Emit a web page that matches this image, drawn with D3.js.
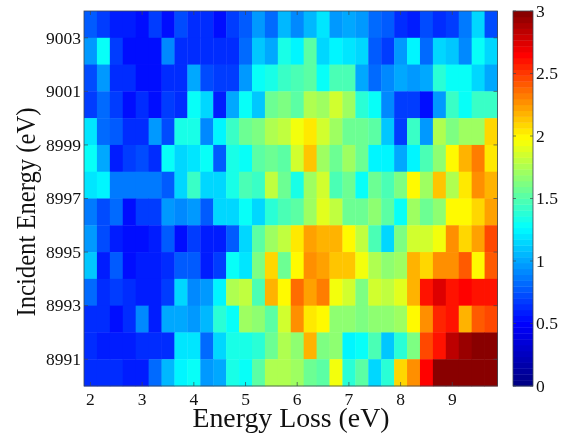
<!DOCTYPE html>
<html>
<head>
<meta charset="utf-8">
<script src="https://cdnjs.cloudflare.com/ajax/libs/d3/7.8.5/d3.min.js"></script>
<style>
  html, body { margin: 0; padding: 0; background: #fff; }
  svg { display: block; filter: blur(0.4px); }
  text { font-family: "Liberation Serif", serif; fill: #111; }
  .tick-label { font-size: 17.5px; }
  .x-title { font-size: 27.8px; }
  .y-title { font-size: 27px; }
</style>
</head>
<body>
<div class="graph"></div>
<script>
// energy loss of each column (eV)
var lossEnergies = [2, 2.25, 2.5, 2.75, 3, 3.25, 3.5, 3.75, 4, 4.25, 4.5, 4.75, 5, 5.25, 5.5, 5.75,
  6, 6.25, 6.5, 6.75, 7, 7.25, 7.5, 7.75, 8, 8.25, 8.5, 8.75, 9, 9.25, 9.5, 9.75];

// lower edge of each row, top row first (eV)
var incidentEnergies = [9003, 9002, 9001, 9000, 8999, 8998, 8997, 8996, 8995, 8994, 8993, 8992, 8991, 8990];

// intensity, one row per incident energy
var row9003 = [.78,.68,.6,.58,.56,.7,.53,.73,.63,.61,.55,.66,.78,.97,.83,1.07,.9,1.05,1.2,.97,1.03,.95,.83,.76,.63,.6,.73,.63,.68,.86,1.15,.73];
var row9002 = [.96,1.3,.66,.56,.56,.56,.93,.65,.63,.63,.61,.61,.83,1.1,1.03,1.33,1.23,1.51,1.17,1.23,1.18,1.13,.78,.68,.97,1.23,.8,1.15,1.12,.9,1.27,1.13];
var row9001 = [.73,.96,.63,.61,.56,.55,.65,.65,1.03,.73,.7,.7,.98,1.28,1.33,1.43,1.46,1.53,1.3,1.48,1.46,1,.8,.9,1,.95,1.03,1.38,1.28,1.28,1.13,1];
var row9000 = [.7,.8,.7,.55,.65,.55,.68,.63,1.27,1.15,.6,1,1.28,1.08,1.55,1.63,1.53,1.76,1.73,1.83,1.71,1.4,1.3,.9,.68,.68,.56,.96,1.41,1.28,1.43,1.43];
var row8999 = [1.2,.83,.76,.63,.63,.96,.73,1.33,1.33,.9,1.25,1.43,1.58,1.63,1.76,1.81,1.96,2.03,1.83,1.73,1.58,1.58,1.5,1.1,.66,1.41,.97,1.78,1.6,1.71,1.71,2.08];
var row8998 = [1.27,1,.58,.68,.73,.63,1.28,1.13,1.2,1.28,.76,1.33,1.3,1.51,1.55,1.53,1.83,2.11,1.73,1.55,1.71,1.55,1.25,1.25,1.02,1.25,1.46,1.65,2,2.16,2.31,2.06];
var row8997 = [1.18,1.23,.88,.86,.86,.88,.78,1.15,1.41,1.15,1.15,1.33,1.48,1.41,1.81,1.58,1.32,1.73,1.83,1.48,1.58,1.29,1.58,1.46,1.6,1.98,1.73,2.13,1.78,2.05,2.25,2.18];
var row8996 = [.88,.73,.8,.56,.7,.7,.97,.9,.97,.76,1.15,1.15,1.27,1.17,1.4,1.46,1.51,1.71,1.89,1.81,1.55,1.55,1.68,1.51,1.27,1.71,1.58,1.68,1.98,1.98,2.08,2.23];
var row8995 = [.96,.73,.58,.55,.55,.58,.76,.56,.68,.6,.6,.78,1.15,1.51,1.71,1.81,2.06,2.23,2.18,2.18,2,1.79,1.48,1.17,1.63,1.83,1.83,1.93,2.29,2.1,2.23,2.46];
var row8994 = [1.08,.58,.76,.54,.6,.6,.63,.78,.78,.6,.68,1.27,1.18,1.63,2.08,1.55,1.98,2.26,2.21,2.11,2.11,1.96,1.78,1.65,1.73,2.16,2.1,2.29,2.25,2.41,2,2.41];
var row8993 = [.83,.63,.68,.65,.6,.58,.7,1.15,.9,.95,1.23,1.76,1.79,1.46,2.16,1.98,2.37,2.23,2.32,1.94,1.86,1.63,1.83,1.81,1.91,2.18,2.62,2.74,2.6,2.64,2.6,2.62];
var row8992 = [.65,.63,.55,.61,.9,.6,1.03,1.03,.98,1.07,1.38,1.3,1.73,1.65,1.51,1.83,2.25,2.06,1.98,1.68,1.68,1.6,1.68,1.68,1.7,1.98,2.28,2.57,2.59,2.16,2.41,2.46];
var row8991 = [.63,.6,.6,.6,.65,.65,.61,1.18,1.18,.83,1.13,1.33,1.33,1.4,1.55,1.76,1.65,2.16,1.63,1.68,1.25,1.28,1.48,1.08,1.38,1.61,2.46,2.6,2.82,2.95,3,3];
var row8990 = [.63,.63,.61,.6,.6,.8,1.07,1.23,1.3,.95,1.03,1.32,1.28,1.53,1.76,1.76,1.71,1.55,1.51,1.93,1.38,1.53,1.13,1.4,2.08,2.29,2.64,3,3,3,3,3];
var intensity = [row9003, row9002, row9001, row9000, row8999, row8998, row8997, row8996, row8995, row8994, row8993, row8992, row8991, row8990];

// tick labels
var xTicks = [2, 3, 4, 5, 6, 7, 8, 9];
var yTicks = [8991, 8993, 8995, 8997, 8999, 9001, 9003];
var colorTicks = [0, 0.5, 1, 1.5, 2, 2.5, 3];

// colormap anchors as seen on the colorbar
var jetStops = [0, 0.5, 1.27, 1.98, 2.65, 3];
var jetColors = ["#000080", "#0000ff", "#00ffff", "#ffff00", "#ff0000", "#800000"];

var width = 565, height = 438;
var margin = { top: 11, right: 68, bottom: 52, left: 84 };
var plotRight = 497.5;

var svg = d3.select(".graph").append("svg").attr("width", width).attr("height", height);

// scales
var x = d3.scaleLinear().domain([1.875, 9.875]).range([margin.left, plotRight]);
var y = d3.scaleLinear().domain([8990, 9004]).range([height - margin.bottom, margin.top]);
var jet = d3.scaleLinear().domain(jetStops).range(jetColors).clamp(true);

// 64 levels, like the colormap of the original
var levels = 64;
function levelColor(v) {
  var i = Math.min(levels - 1, Math.floor(v / 3 * levels));
  return jet((i + 0.5) / levels * 3);
}

// heatmap cells
var cellW = 0.25;
incidentEnergies.forEach(function (e, r) {
  svg.append("g").selectAll("rect")
    .data(intensity[r])
    .enter().append("rect")
    .attr("x", function (d, i) { return x(lossEnergies[i] - cellW / 2); })
    .attr("y", y(e + 1))
    .attr("width", x(cellW) - x(0) + 0.4)
    .attr("height", y(e) - y(e + 1) + 0.4)
    .attr("fill", levelColor);
});

// frame and inner ticks on all four sides
var axisColor = "#3c4650";
var g = svg.append("g");
g.append("rect").attr("x", x.range()[0]).attr("y", y.range()[1])
  .attr("width", x.range()[1] - x.range()[0]).attr("height", y.range()[0] - y.range()[1])
  .attr("fill", "none").attr("stroke", axisColor).attr("stroke-width", 0.8);

xTicks.forEach(function (t) {
  g.append("line").attr("x1", x(t)).attr("x2", x(t)).attr("y1", y.range()[0]).attr("y2", y.range()[0] - 4).attr("stroke", axisColor).attr("stroke-width", 0.7);
  g.append("line").attr("x1", x(t)).attr("x2", x(t)).attr("y1", y.range()[1]).attr("y2", y.range()[1] + 4).attr("stroke", axisColor).attr("stroke-width", 0.7);
  g.append("text").attr("class", "tick-label").attr("x", x(t)).attr("y", 405).attr("text-anchor", "middle").text(t);
});

yTicks.forEach(function (t) {
  g.append("line").attr("x1", x.range()[0]).attr("x2", x.range()[0] + 4).attr("y1", y(t)).attr("y2", y(t)).attr("stroke", axisColor).attr("stroke-width", 0.7);
  g.append("line").attr("x1", x.range()[1]).attr("x2", x.range()[1] - 4).attr("y1", y(t)).attr("y2", y(t)).attr("stroke", axisColor).attr("stroke-width", 0.7);
  g.append("text").attr("class", "tick-label").attr("x", 81).attr("y", y(t)).attr("dy", "0.33em").attr("text-anchor", "end").text(t);
});

// axis titles
svg.append("text").attr("class", "x-title").attr("x", 291).attr("y", 427).attr("text-anchor", "middle").text("Energy Loss (eV)");
svg.append("text").attr("class", "y-title").attr("transform", "translate(35,212) rotate(-90)").attr("text-anchor", "middle")
  .attr("textLength", 209).attr("lengthAdjust", "spacingAndGlyphs").text("Incident Energy (eV)");

// colorbar
var barLeft = 513, barRight = 533;
var c = d3.scaleLinear().domain([0, 3]).range([y.range()[0], y.range()[1]]);
var bar = svg.append("g");
bar.selectAll("rect").data(d3.range(levels)).enter().append("rect")
  .attr("x", barLeft)
  .attr("y", function (i) { return c((i + 1) / levels * 3); })
  .attr("width", barRight - barLeft)
  .attr("height", function (i) { return c(i / levels * 3) - c((i + 1) / levels * 3) + 0.4; })
  .attr("fill", function (i) { return jet((i + 0.5) / levels * 3); });
bar.append("rect").attr("x", barLeft).attr("y", c(3)).attr("width", barRight - barLeft).attr("height", c(0) - c(3))
  .attr("fill", "none").attr("stroke", axisColor).attr("stroke-width", 0.8);

colorTicks.forEach(function (t) {
  bar.append("line").attr("x1", barLeft).attr("x2", barLeft + 3).attr("y1", c(t)).attr("y2", c(t)).attr("stroke", axisColor).attr("stroke-width", 0.7);
  bar.append("line").attr("x1", barRight).attr("x2", barRight - 3).attr("y1", c(t)).attr("y2", c(t)).attr("stroke", axisColor).attr("stroke-width", 0.7);
  bar.append("text").attr("class", "tick-label").attr("x", 536).attr("y", c(t)).attr("dy", "0.33em").text(t);
});
</script>
</body>
</html>
